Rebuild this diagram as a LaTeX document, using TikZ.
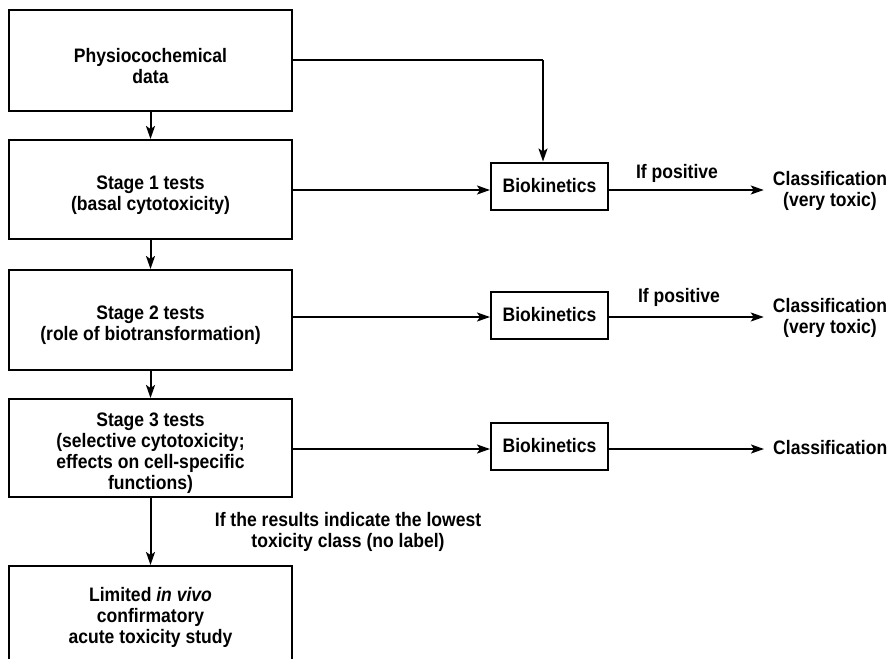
\documentclass[tikz,border=0pt]{standalone}
\usepackage{fontspec}
\setmainfont{Liberation Sans}[FakeStretch=0.9]
\usetikzlibrary{arrows.meta}
\begin{document}
\begin{tikzpicture}[x=1pt,y=-1pt,
  every node/.style={font=\bfseries\fontsize{19.5}{21}\selectfont, align=center},
  stagebox/.style={draw, line width=2pt, minimum width=283pt, inner sep=0pt},
  bkbox/.style={draw, line width=2pt, minimum width=117pt, minimum height=47pt, inner sep=0pt},
  conn/.style={line width=2pt, -{Stealth[length=13pt,width=9pt,inset=3pt]}},
  plain/.style={line width=2pt}]
\clip (0,0) rectangle (890,658);
\fill[white] (0,0) rectangle (890,658);
% stage boxes
\node[stagebox, minimum height=101pt] (b1) at (150.5,60.5) {};
\node[stagebox, minimum height=99pt] (b2) at (150.5,189.5) {};
\node[stagebox, minimum height=100pt] (b3) at (150.5,320) {};
\node[stagebox, minimum height=98pt] (b4) at (150.5,448) {};
\node[stagebox, minimum height=100pt] (b5) at (150.5,616) {};
\node (b1t) at ([yshift=-6pt]b1.center) {Physiocochemical\\data};
\node (b2t) at ([yshift=-6pt]b2.center) {Stage 1 tests\\(basal cytotoxicity)};
\node (b3t) at ([yshift=-5pt]b3.center) {Stage 2 tests\\(role of biotransformation)};
\node (b4t) at ([yshift=-5pt]b4.center) {Stage 3 tests\\(selective cytotoxicity;\\effects on cell-specific\\functions)};
\node (b5t) at ([yshift=-1pt]b5.center) {Limited \textit{in vivo}\\confirmatory\\acute toxicity study};
% biokinetics
\node[bkbox] (k1) at (549.5,186) {Biokinetics};
\node[bkbox] (k2) at (549.5,315) {Biokinetics};
\node[bkbox] (k3) at (549.5,446) {Biokinetics};
% classification
\node[inner sep=0pt] (c1) at (830,191) {Classification\\(very toxic)};
\node[inner sep=0pt] (c2) at (830,318) {Classification\\(very toxic)};
\node[inner sep=0pt, anchor=west] (c3) at (773,448) {Classification};
% labels
\node (p1) at (677,173) {If positive};
\node (p2) at (679,297) {If positive};
\node (lw) at (348,532) {If the results indicate the lowest\\toxicity class (no label)};
% vertical
\draw[conn] (b1.south) -- (b2.north);
\draw[conn] (b2.south) -- (b3.north);
\draw[conn] (b3.south) -- (b4.north);
\draw[conn] (b4.south) -- (b5.north);
% to biokinetics
\coordinate (t1) at (543,60);
\draw[plain] (b1.east |- t1) -- (t1);
\draw[conn] (t1) -- (t1 |- k1.north);
\draw[conn] ([yshift=-4pt]b2.east |- k1.west) -- ([yshift=-4pt]k1.west);
\draw[conn] ([yshift=-2pt]b3.east |- k2.west) -- ([yshift=-2pt]k2.west);
\draw[conn] ([yshift=-3pt]b4.east |- k3.west) -- ([yshift=-3pt]k3.west);
% to classification
\draw[conn] ([yshift=-4pt]k1.east) -- ([xshift=-9pt,yshift=-4pt]c1.west |- k1.east);
\draw[conn] ([yshift=-2pt]k2.east) -- ([xshift=-9pt,yshift=-2pt]c2.west |- k2.east);
\draw[conn] ([yshift=-3pt]k3.east) -- ([xshift=-9pt,yshift=-3pt]c3.west |- k3.east);
\end{tikzpicture}
\end{document}
